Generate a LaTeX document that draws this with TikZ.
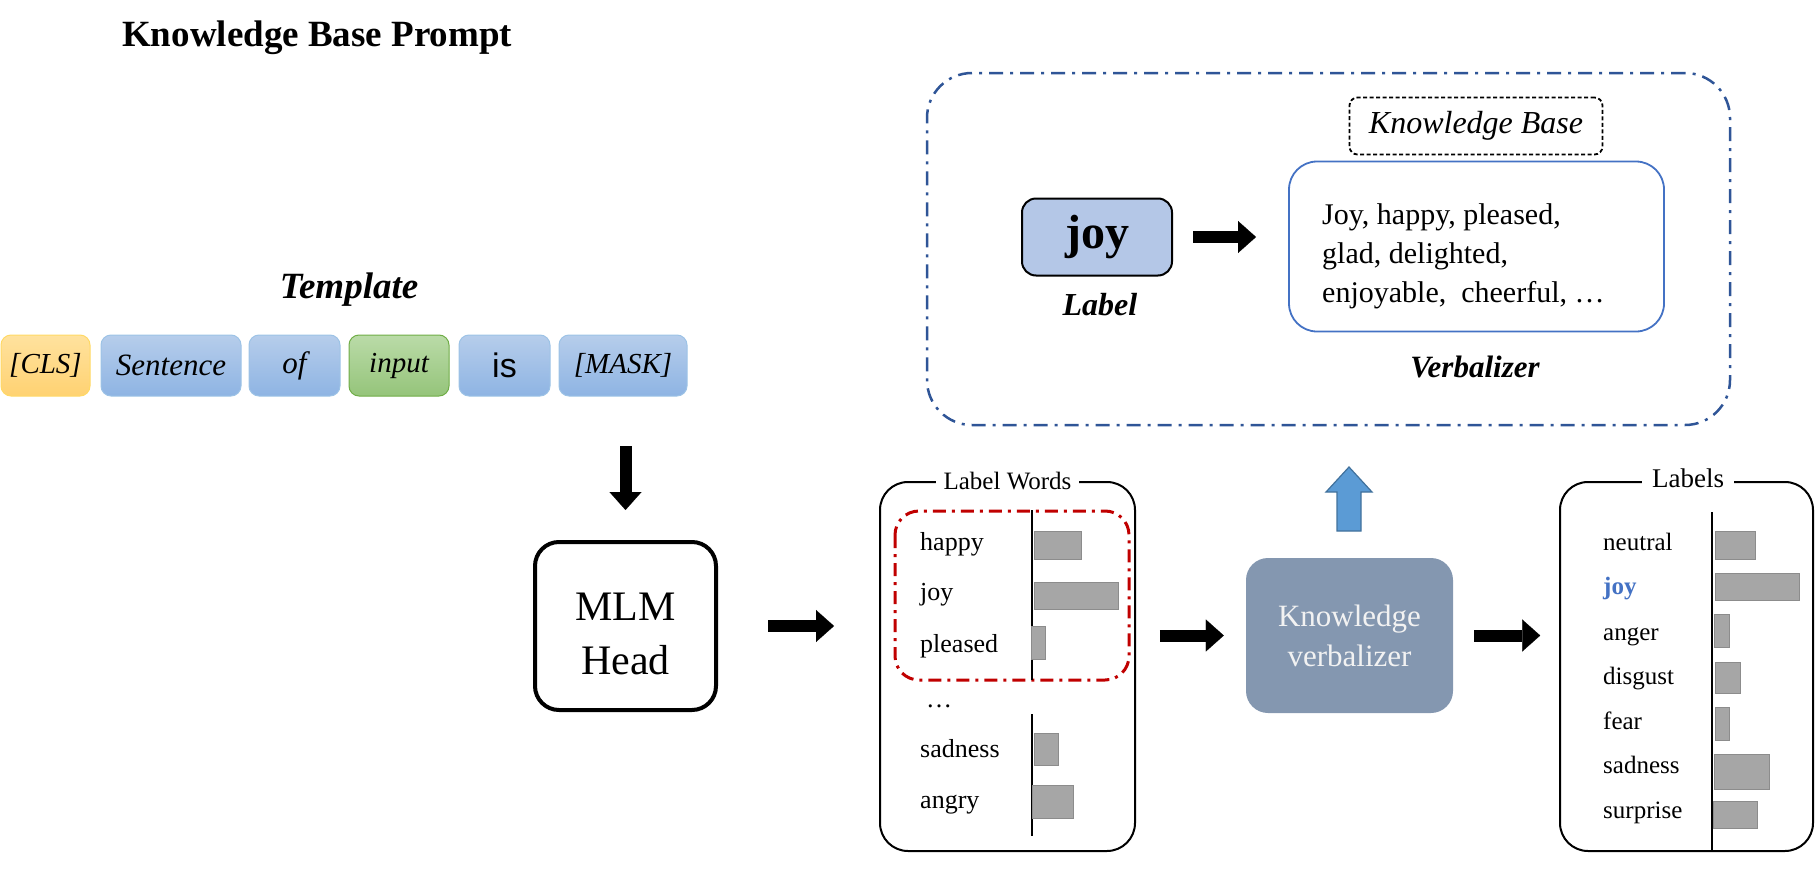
\documentclass[tikz,border=0pt]{standalone}
\usepackage{fontspec}
\setmainfont{Liberation Serif}
\newfontfamily\arialf{Liberation Sans}
\usetikzlibrary{arrows.meta}
\newcommand{\fsz}[2]{\fontsize{#1pt}{#2pt}\selectfont}
\definecolor{tokblueT}{HTML}{B6CDEB}
\definecolor{tokblueB}{HTML}{8EB4E3}
\definecolor{tokblueD}{HTML}{9DC3E6}
\definecolor{tokorT}{HTML}{FFE29E}
\definecolor{tokorB}{HTML}{FFD272}
\definecolor{tokorD}{HTML}{FFD966}
\definecolor{tokgrT}{HTML}{BADBA8}
\definecolor{tokgrB}{HTML}{95C47A}
\definecolor{tokgrD}{HTML}{70AD47}
\definecolor{kvfill}{HTML}{8497B0}
\definecolor{kvtext}{HTML}{F2F2F2}
\definecolor{uparrow}{HTML}{5B9BD5}
\definecolor{uparrowD}{HTML}{41719C}
\definecolor{outerblue}{HTML}{2F5597}
\definecolor{verbblue}{HTML}{4472C4}
\definecolor{joyfill}{HTML}{B4C7E7}
\definecolor{selred}{HTML}{C00000}
\definecolor{barfill}{HTML}{A6A6A6}
\definecolor{bardraw}{HTML}{8C8C8C}
\begin{document}
\begin{tikzpicture}[x=1pt,y=-1pt,
  tok/.style={rounded corners=10pt, minimum height=61pt, inner sep=0pt, line width=1pt,
    font=\fsz{29}{34}\itshape},
  bluetok/.style={tok, draw=tokblueD, top color=tokblueT, bottom color=tokblueB},
  blk/.style={line width=12pt, -{Triangle[length=18pt,width=32pt,line width=0.1pt]}},
  bar/.style={fill=barfill, draw=bardraw, line width=1pt},
  panel/.style={draw=black, line width=2pt, rounded corners=28pt, inner sep=0pt},
  wordA/.style={anchor=base west, inner sep=0pt, font=\fsz{26}{30}},
  wordB/.style={anchor=base west, inner sep=0pt, font=\fsz{25}{30}},
  axis/.style={line width=2.5pt}
]
\useasboundingbox (0,0) rectangle (1816,886);

% title
\node[anchor=west, inner sep=0pt, font=\fsz{37}{42}\bfseries] (title) at (122,38) {Knowledge Base Prompt};

% template
\node[inner sep=0pt, font=\fsz{37}{42}\bfseries\itshape] (tmpl) at (349,290) {Template};
\node[tok, draw=tokorD, top color=tokorT, bottom color=tokorB, minimum width=89pt] (cls) at (45.5,365.5) {[CLS]};
\node[bluetok, minimum width=140pt, font=\fsz{31}{34}\itshape] (sent) at (171,365.5) {Sentence};
\node[bluetok, minimum width=91pt, font=\fsz{31}{34}\itshape] (of) at (294.5,365.5) {of};
\node[tok, draw=tokgrD, top color=tokgrT, bottom color=tokgrB, minimum width=100pt] (inp) at (399,365.5) {input};
\node[bluetok, minimum width=91pt, font=\fsz{34}{38}\arialf] (is) at (504.5,365.5) {is};
\node[bluetok, minimum width=128pt] (mask) at (623,365.5) {[MASK]};

% MLM head
\node[draw=black, line width=4pt, rounded corners=24pt, minimum width=181pt, minimum height=168pt,
  align=center, font=\fsz{42}{54}] (mlm) at (625.5,626) {\rule{0pt}{43pt}MLM\\Head};
\draw[blk] ([yshift=94pt]mlm.north) -- ([yshift=30pt]mlm.north);

% Label words panel
\node[panel, minimum width=255pt, minimum height=369pt] (lw) at (1007.5,666.5) {};
\node[fill=white, inner xsep=8pt, inner ysep=2pt, font=\fsz{25}{30}] (lwt) at (lw.north) {Label Words};
\draw[selred, line width=3pt, rounded corners=24pt, dash pattern=on 13pt off 6pt on 3pt off 6pt]
  (895,511) rectangle (1129,680);
\draw[axis] (1032,510) -- (1032,680);
\draw[axis] (1032,714) -- (1032,836);
\node[wordA] (w1) at (920,550) {happy};
\node[wordA] (w2) at (920,600) {joy};
\node[wordA] (w3) at (920,652) {pleased};
\node[wordA] (w4) at (926,707) {\dots};
\node[wordA] (w5) at (920,757) {sadness};
\node[wordA] (w6) at (920,808) {angry};
\draw[bar] (1034,531) rectangle (1081,559);
\draw[bar] (1034,582) rectangle (1118,609);
\draw[bar] (1031,626) rectangle (1045,659);
\draw[bar] (1034,733) rectangle (1058,765);
\draw[bar] (1032,785) rectangle (1073,818);

\draw[blk] ([xshift=50pt]mlm.east) -- ([xshift=116pt]mlm.east);

% Knowledge verbalizer
\node[fill=kvfill, rounded corners=22pt, minimum width=207pt, minimum height=155pt, inner sep=0pt,
  align=center, text=kvtext, font=\fsz{31}{40}] (kv) at (1349.5,635.5) {Knowledge\\verbalizer};
\draw[blk] ([xshift=-86pt]kv.west) -- ([xshift=-22pt]kv.west);
\draw[blk] ([xshift=21pt]kv.east) -- ([xshift=87pt]kv.east);

% up arrow
\filldraw[fill=uparrow, draw=uparrowD, line width=1.2pt]
  (1349,467) -- (1372,492) -- (1361,492) -- (1361,531) -- (1337,531) -- (1337,492) -- (1326,492) -- cycle;

% Labels panel
\node[panel, minimum width=253pt, minimum height=369pt] (lab) at (1686.5,666.5) {};
\node[fill=white, inner xsep=10pt, inner ysep=2pt, font=\fsz{27}{30}] (labt) at (1688,478) {Labels};
\draw[axis] (1712,512) -- (1712,851);
\node[wordB] (l1) at (1603,550) {neutral};
\node[wordB, text=verbblue, font=\fsz{25}{30}\bfseries] (l2) at (1603,594) {joy};
\node[wordB] (l3) at (1603,640) {anger};
\node[wordB] (l4) at (1603,684) {disgust};
\node[wordB] (l5) at (1603,729) {fear};
\node[wordB] (l6) at (1603,773) {sadness};
\node[wordB] (l7) at (1603,818) {surprise};
\draw[bar] (1715,531) rectangle (1755,559);
\draw[bar] (1715,573) rectangle (1799,600);
\draw[bar] (1714,614) rectangle (1729,647);
\draw[bar] (1715,662) rectangle (1740,693);
\draw[bar] (1715,707) rectangle (1729,740);
\draw[bar] (1714,754) rectangle (1769,789);
\draw[bar] (1713,801) rectangle (1757,828);

% top knowledge base box
\node[draw=outerblue, line width=2.5pt, rounded corners=45pt, dash pattern=on 14pt off 7pt on 3pt off 7pt,
  minimum width=803pt, minimum height=352pt] (kbbox) at (1328.5,249) {};
\node[draw=black, fill=joyfill, line width=2pt, rounded corners=14pt, minimum width=150pt, minimum height=77pt,
  inner sep=0pt, font=\fsz{48}{50}\bfseries] (joy) at (1097,237) {joy};
\node[inner sep=0pt, font=\fsz{32}{34}\bfseries\itshape] (lbl) at (1100,305) {Label};
\draw[blk] ([xshift=20pt]joy.east) -- ([xshift=83pt]joy.east);
\node[draw=black, dash pattern=on 4pt off 2.5pt, line width=1.8pt, rounded corners=8pt, minimum width=253pt, minimum height=57pt,
  inner sep=0pt, font=\fsz{32}{34}\itshape] (kb) at (1476,126) {Knowledge Base};
\node[draw=verbblue, line width=1.8pt, rounded corners=28pt, minimum width=375pt, minimum height=170pt] (verb) at (1476.5,246.5) {};
\node[anchor=west, inner sep=0pt, align=left, font=\fsz{30}{39}] (vlist) at (1322,256)
  {Joy, happy, pleased,\\glad, delighted,\\enjoyable,\ \ cheerful, \dots};
\node[inner sep=0pt, font=\fsz{31}{34}\bfseries\itshape] (vlbl) at (1475,367) {Verbalizer};
\end{tikzpicture}
\end{document}
